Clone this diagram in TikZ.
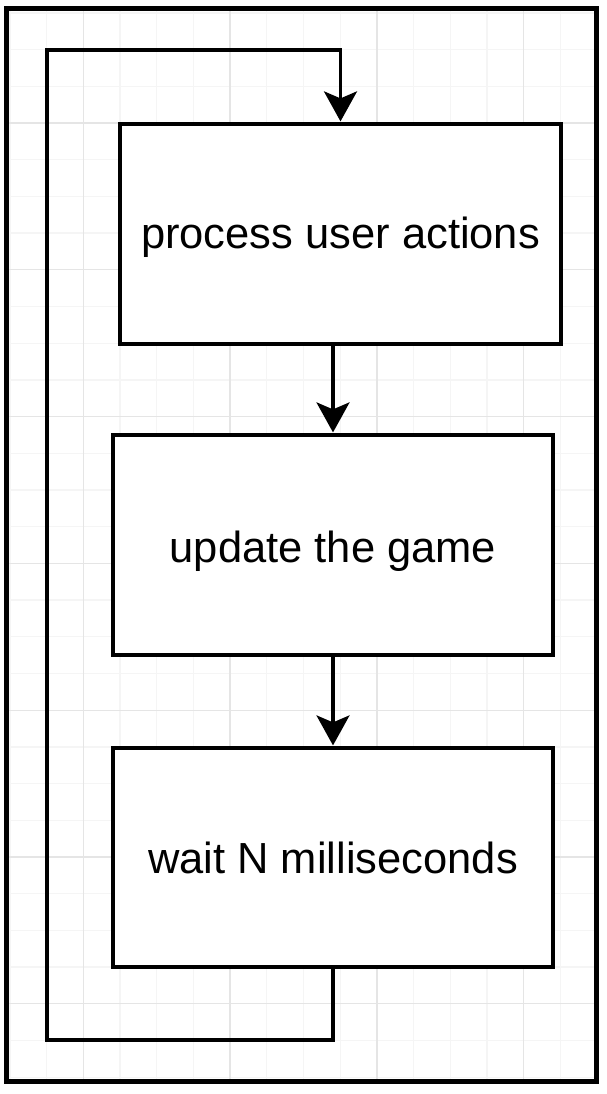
\documentclass[tikz,border=0pt]{standalone}
\usepackage{fontspec}
\setmainfont{Liberation Sans}
\usetikzlibrary{arrows.meta}
\begin{document}
\begin{tikzpicture}[x=1pt,y=-1pt,
  box/.style={draw=black, line width=3.2pt, fill=white,
    font=\fontsize{43.5}{50}\selectfont, text height=31pt, text depth=0pt,
    inner sep=0pt, minimum width=440pt, minimum height=220pt},
  flow/.style={line width=3.2pt, -{Stealth[length=30pt,width=33pt,inset=7pt]}, shorten >=1pt},
  minorgrid/.style={draw=black!4, line width=1.3pt},
  majorgrid/.style={draw=black!10, line width=1.3pt},
  framebox/.style={draw=black, line width=5pt, inner sep=0pt}]
\fill[white] (0,0) rectangle (606,1094);
\useasboundingbox (0,0) rectangle (606,1094);
% grid
\begin{scope}
\clip (6.7,8.5) rectangle (596,1081.5);
\foreach \k [evaluate=\k as \xx using 9.9+36.7*\k] in {0,...,16}
  \draw[minorgrid] (\xx,8.5) -- (\xx,1081.5);
\foreach \k [evaluate=\k as \yy using 49.6+36.7*\k] in {-1,...,28}
  \draw[minorgrid] (6.7,\yy) -- (596,\yy);
\foreach \k [evaluate=\k as \xx using 9.9+36.7*\k] in {2,6,10,14}
  \draw[majorgrid] (\xx,8.5) -- (\xx,1081.5);
\foreach \k [evaluate=\k as \yy using 49.6+36.7*\k] in {2,6,...,26}
  \draw[majorgrid] (6.7,\yy) -- (596,\yy);
\end{scope}
% frame
\node[framebox, minimum width=589.3pt, minimum height=1073pt] (frame) at (301.35,545) {};
% boxes
\node[box, minimum width=441pt, text height=28.6pt] (b1) at (340.5,234) {process user actions};
\node[box, text height=35.4pt] (b2) at (333,545) {update the game};
\node[box, minimum height=219pt] (b3) at (333,857.5) {wait N milliseconds};
% loop corners
\coordinate (lb) at (47,1040);
\coordinate (lt) at (47,50);
% connectors
\draw[flow] (b2.north |- b1.south) -- (b2.north);
\draw[flow] (b2.south) -- (b3.north);
\draw[flow] (b3.south) -- (b3.south |- lb) -- (lb) -- (lt) -- (lt -| b1.north) -- (b1.north);
\end{tikzpicture}
\end{document}
